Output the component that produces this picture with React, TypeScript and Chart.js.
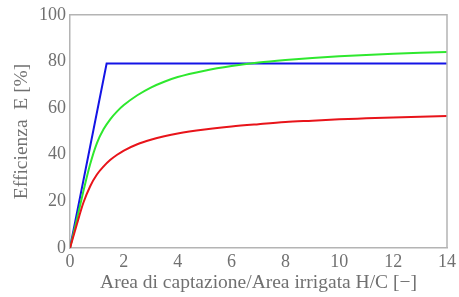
import React, { useEffect, useRef } from "react";
import { Chart, registerables } from "chart.js";

Chart.register(...registerables);

const curveX = [0, 0.25, 0.5, 0.75, 1, 1.25, 1.5, 1.75, 2, 2.5, 3, 3.5, 4, 5, 6, 7, 8, 9, 10, 11, 12, 13, 14];
const greenE = [0, 12, 24.5, 36, 45, 51, 55.3, 58.6, 61.3, 65.5, 68.8, 71.3, 73.3, 76, 78, 79.5, 80.6, 81.5, 82.2, 82.8, 83.3, 83.7, 84];
const redE = [0, 10, 19.5, 26.5, 31.5, 35, 37.8, 40, 41.8, 44.5, 46.4, 47.9, 49.1, 50.8, 52.1, 53.1, 54, 54.6, 55.2, 55.6, 56, 56.3, 56.6];
const blueX = [0, 1.36, 14];
const blueE = [0, 79.1, 79.1];

const xTitle = "Area di captazione/Area irrigata H/C [−]";
const yTitle = "Efficienza  E [%]";

const FONT = "'Liberation Serif', 'Times New Roman', serif";
const TEXT = "#707070";
const AXIS = "#b4b4b4";

const framePlugin = {
  id: "frame",
  afterDraw(chart: any) {
    const { ctx, chartArea } = chart;
    ctx.save();
    ctx.strokeStyle = AXIS;
    ctx.lineWidth = 1.5;
    ctx.beginPath();
    ctx.moveTo(chartArea.left, chartArea.top);
    ctx.lineTo(chartArea.right, chartArea.top);
    ctx.lineTo(chartArea.right, chartArea.bottom);
    ctx.stroke();
    ctx.restore();
  },
};

export default function App() {
  const ref = useRef<HTMLCanvasElement>(null);
  useEffect(() => {
    const toPts = (xs: number[], ys: number[]) => xs.map((x, i) => ({ x, y: ys[i] }));
    const chart = new Chart(ref.current!, {
      type: "line",
      data: {
        datasets: [
          {
            data: toPts(curveX, redE),
            borderColor: "#e8141a",
            borderWidth: 2,
            pointRadius: 0,
            cubicInterpolationMode: "monotone",
          },
          {
            data: toPts(curveX, greenE),
            borderColor: "#2ee82e",
            borderWidth: 2,
            pointRadius: 0,
            cubicInterpolationMode: "monotone",
          },
          {
            data: toPts(blueX, blueE),
            borderColor: "#1414e6",
            borderWidth: 2,
            pointRadius: 0,
            tension: 0,
          },
        ],
      },
      options: {
        responsive: false,
        animation: false,
        layout: { padding: { top: 13, right: 10, left: 0, bottom: 0 } },
        plugins: { legend: { display: false }, tooltip: { enabled: false } },
        scales: {
          x: {
            type: "linear",
            min: 0,
            max: 14,
            grid: { display: false, drawTicks: false },
            border: { display: true, color: AXIS, width: 1.5 },
            ticks: { stepSize: 2, color: TEXT, font: { family: FONT, size: 18 }, padding: 3 },
            title: { display: true, text: xTitle, color: TEXT, font: { family: FONT, size: 19.5 }, padding: { top: 0, bottom: 2 } },
            afterFit: (s: any) => { s.height = 49; },
          },
          y: {
            min: 0,
            max: 100,
            grid: { display: false, drawTicks: false },
            border: { display: true, color: AXIS, width: 1.5 },
            ticks: { stepSize: 20, color: TEXT, font: { family: FONT, size: 18 }, padding: 4 },
            title: { display: true, text: yTitle, color: TEXT, font: { family: FONT, size: 19.5 }, padding: { top: 10, bottom: 0 } },
            afterFit: (s: any) => { s.width = 70; },
          },
        },
      },
      plugins: [framePlugin],
    } as any);
    return () => chart.destroy();
  }, []);
  return (
    <div style={{ position: "absolute", left: 0, top: 0, width: 459, height: 297, background: "#fff" }}>
      <canvas ref={ref} width={459} height={297} />
    </div>
  );
}
